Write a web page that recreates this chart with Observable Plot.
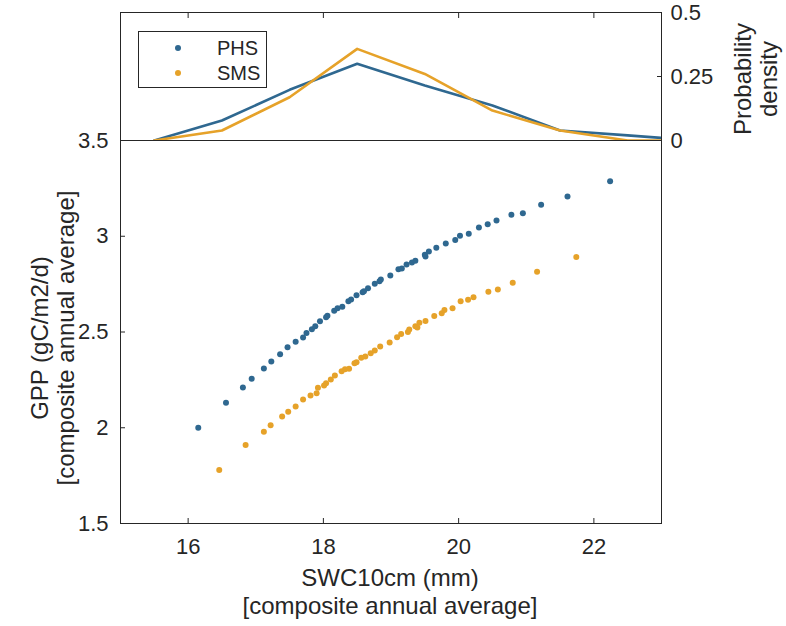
<!DOCTYPE html>
<html><head><meta charset="utf-8">
<script src="https://cdn.jsdelivr.net/npm/d3@7"></script>
<script src="https://cdn.jsdelivr.net/npm/@observablehq/plot@0.6"></script>
<style>
body{margin:0;background:#fff;font-family:"Liberation Sans",Arial,sans-serif;color:#262626;}
#wrap{position:relative;width:786px;height:626px;overflow:hidden;}
#wrap svg{position:absolute;left:0;top:0;}
.lbl{position:absolute;white-space:nowrap;font-size:24px;line-height:28px;text-align:center;color:#262626;}
.lbl.rot{line-height:26px;}
.legend{position:absolute;left:138px;top:31px;width:129px;height:57px;border:1px solid #262626;background:#fff;box-sizing:border-box;font-size:20px;}
.legend .row{position:absolute;left:0;width:100%;height:22px;line-height:22px;}
.legend .dot{position:absolute;left:36px;top:8px;width:6px;height:6px;border-radius:50%;}
.legend .txt{position:absolute;left:78px;top:0;}
</style></head><body><div id="wrap"></div>
<script>
const series = ["PHS", "SMS"];
const colors = ["#2f6890", "#e6a229"];
const xTicks = [16, 18, 20, 22];
const yTicks = [1.5, 2, 2.5, 3, 3.5];
const densTicks = [0, 0.25, 0.5];
const densTickLabels = ["0", "0.25", "0.5"];

// density curves (top panel)
const densBins = [15.5, 16.5, 17.5, 18.5, 19.5, 20.5, 21.5, 22.5, 23.5];
const phsDens = [0, 0.078, 0.198, 0.30, 0.215, 0.137, 0.039, 0.02, 0.0];
const smsDens = [0, 0.039, 0.169, 0.358, 0.26, 0.117, 0.039, 0.0, 0.0];

// scatter (composite annual averages)
const phsX = [16.15,16.56,16.81,16.94,17.12,17.23,17.36,17.47,17.59,17.70,17.75,17.83,17.88,17.95,18.04,18.06,18.16,18.21,18.28,18.37,18.41,18.49,18.58,18.60,18.66,18.76,18.83,18.85,18.99,19.11,19.16,19.23,19.31,19.36,19.50,19.51,19.56,19.67,19.81,19.95,20.02,20.15,20.30,20.43,20.56,20.78,20.95,21.22,21.61,22.24];
const phsY = [2.00,2.13,2.21,2.256,2.31,2.346,2.384,2.42,2.449,2.471,2.495,2.515,2.53,2.556,2.577,2.585,2.611,2.624,2.632,2.661,2.67,2.692,2.708,2.713,2.729,2.752,2.765,2.774,2.795,2.828,2.832,2.852,2.863,2.872,2.903,2.894,2.92,2.94,2.962,2.981,3.002,3.013,3.046,3.063,3.082,3.112,3.12,3.164,3.208,3.287];
const smsX = [16.46,16.85,17.12,17.22,17.39,17.48,17.59,17.70,17.81,17.90,17.92,18.01,18.04,18.11,18.17,18.27,18.32,18.38,18.46,18.49,18.56,18.62,18.70,18.76,18.84,18.98,19.09,19.15,19.25,19.27,19.36,19.39,19.42,19.51,19.64,19.75,19.79,19.91,20.03,20.14,20.22,20.44,20.58,20.80,21.16,21.74];
const smsY = [1.78,1.91,1.979,2.013,2.059,2.083,2.111,2.147,2.168,2.18,2.209,2.22,2.233,2.252,2.273,2.295,2.306,2.308,2.337,2.342,2.365,2.372,2.389,2.403,2.424,2.445,2.473,2.49,2.50,2.513,2.53,2.524,2.548,2.558,2.584,2.598,2.615,2.624,2.66,2.668,2.682,2.71,2.722,2.757,2.814,2.891];

const dens = [
  ...densBins.map((x, i) => ({x, d: phsDens[i], s: "PHS"})),
  ...densBins.map((x, i) => ({x, d: smsDens[i], s: "SMS"}))
];
const pts = [
  ...phsX.map((x, i) => ({x, y: phsY[i], s: "PHS"})),
  ...smsX.map((x, i) => ({x, y: smsY[i], s: "SMS"}))
];

const axisColor = "#262626";
const common = {
  width: 786, height: 626,
  marginLeft: 120, marginRight: 125,
  style: {background: "transparent", fontFamily: "Liberation Sans, Arial, sans-serif", fontSize: "22px", color: axisColor, overflow: "visible"},
  x: {domain: [15, 23]},
  color: {domain: series, range: colors}
};

const mainPlot = Plot.plot({
  ...common,
  marginTop: 140, marginBottom: 103,
  y: {domain: [1.5, 3.5]},
  marks: [
    Plot.frame({stroke: axisColor}),
    Plot.dot(pts, {x: "x", y: "y", fill: "s", r: 3}),
    Plot.axisX({anchor: "bottom", ticks: xTicks, tickSize: -5, stroke: axisColor, fill: "none", label: null}),
    Plot.axisX({anchor: "bottom", ticks: xTicks, tickSize: 0, tickPadding: 15, fill: axisColor, label: null}),
    Plot.axisY({anchor: "left", ticks: yTicks, tickSize: -5, stroke: axisColor, fill: "none", label: null}),
    Plot.axisY({anchor: "left", ticks: yTicks, tickSize: 0, tickPadding: 12, fill: axisColor, label: null, tickFormat: d => String(d)})
  ]
});

const densPlot = Plot.plot({
  ...common,
  marginTop: 12, marginBottom: 486,
  y: {domain: [0, 0.5]},
  marks: [
    Plot.frame({stroke: axisColor}),
    Plot.line(dens, {x: "x", y: "d", z: "s", stroke: "s", strokeWidth: 2.6, clip: true}),
    Plot.axisX({anchor: "top", ticks: xTicks, tickSize: -5, stroke: axisColor, fill: "none", label: null}),
    Plot.axisY({anchor: "right", ticks: densTicks, tickSize: -5, stroke: axisColor, fill: "none", label: null}),
    Plot.axisY({anchor: "right", ticks: densTicks, tickSize: 0, tickPadding: 9, fill: axisColor, label: null, tickFormat: (d, i) => densTickLabels[i]})
  ]
});

const wrap = document.getElementById("wrap");
wrap.appendChild(mainPlot);
wrap.appendChild(densPlot);

function addLabel(html, cx, cy, rotate) {
  const d = document.createElement("div");
  d.className = "lbl" + (rotate ? " rot" : "");
  d.innerHTML = html;
  d.style.left = cx + "px";
  d.style.top = cy + "px";
  d.style.transform = "translate(-50%,-50%)" + (rotate ? " rotate(-90deg)" : "");
  wrap.appendChild(d);
}
addLabel("SWC10cm (mm)<br>[composite annual average]", 390, 592, false);
addLabel("GPP (gC/m2/d)<br>[composite annual average]", 53, 338, true);
addLabel("Probability<br>density", 756, 79, true);

const leg = document.createElement("div");
leg.className = "legend";
series.forEach((s, i) => {
  const row = document.createElement("div");
  row.className = "row";
  row.style.top = (5 + i * 25) + "px";
  row.innerHTML = `<span class="dot" style="background:${colors[i]}"></span><span class="txt">${s}</span>`;
  leg.appendChild(row);
});
wrap.appendChild(leg);
</script></body></html>
